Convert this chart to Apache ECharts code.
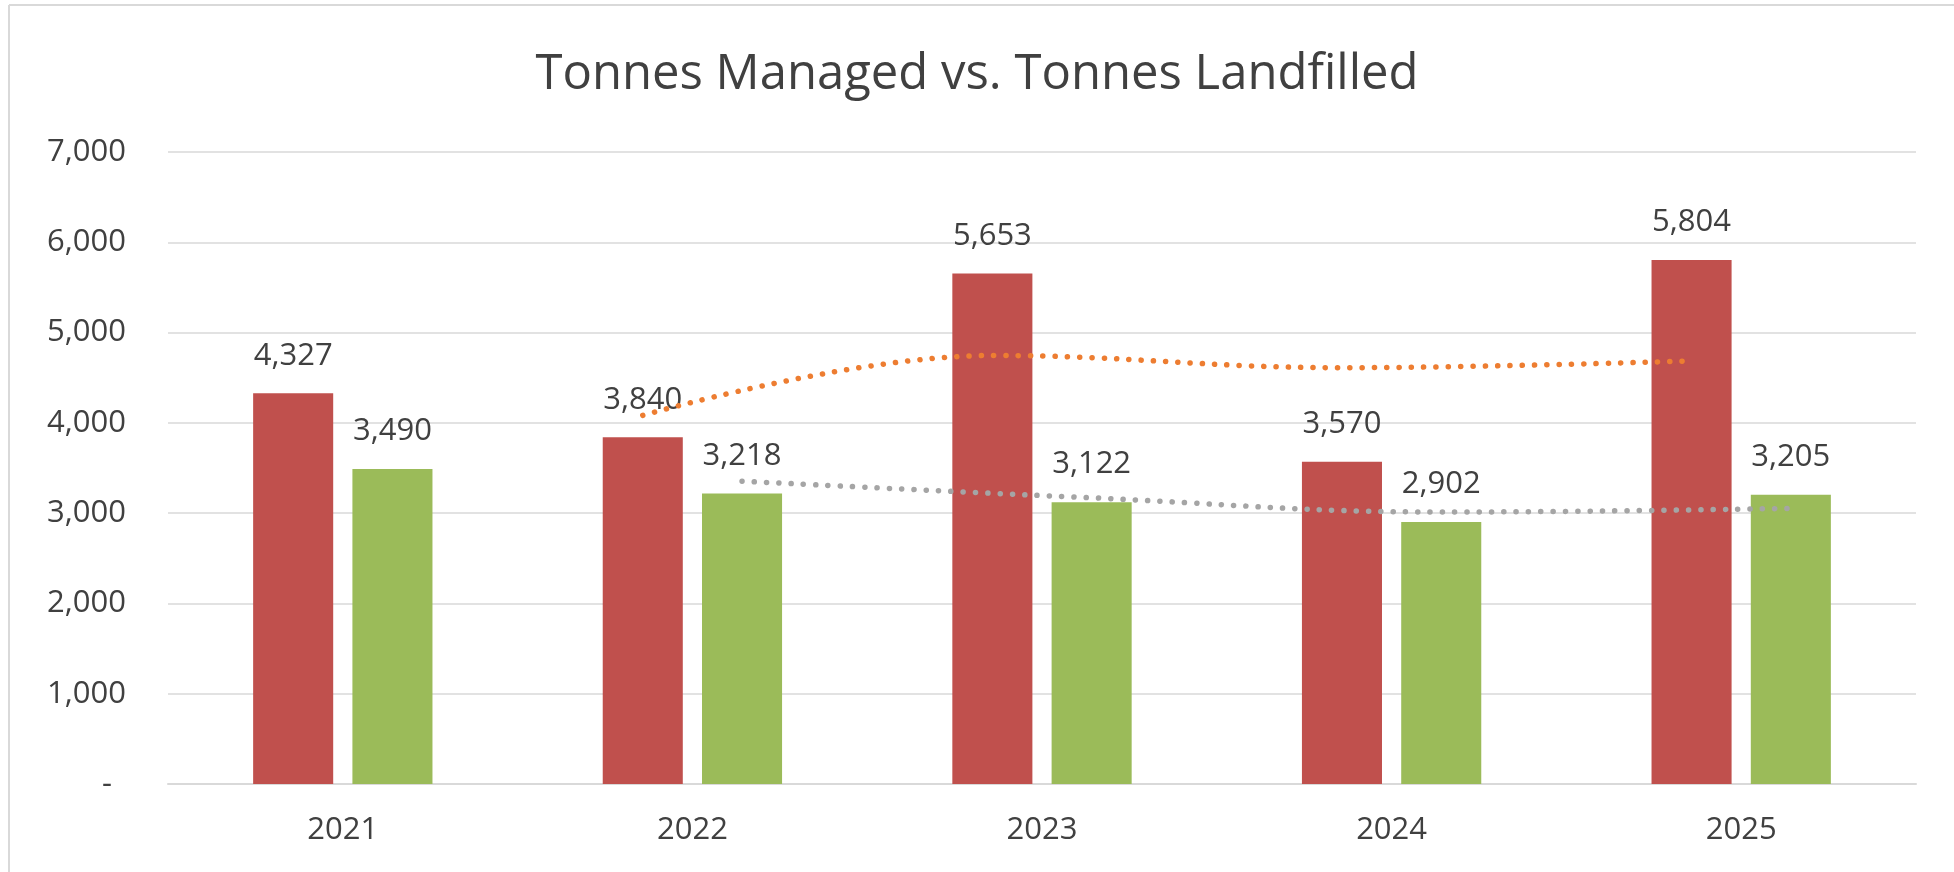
<!DOCTYPE html>
<html>
<head>
<meta charset="utf-8">
<script src="https://cdn.jsdelivr.net/npm/echarts@6/dist/echarts.min.js"></script>
<style>
  html, body { margin: 0; padding: 0; background: #fff; }
  #chart { width: 1954px; height: 872px; }
</style>
</head>
<body>
<div id="chart"></div>
<script>
// 数据
const years = ['2021', '2022', '2023', '2024', '2025'];
const tonnesManaged = [4327, 3840, 5653, 3570, 5804];
const tonnesLandfilled = [3490, 3218, 3122, 2902, 3205];
// 2 period moving average trendlines, start at 2022
const managedTrend = [4083, 4746, 4611, 4687];
const landfilledTrend = [3354, 3170, 3012, 3053];
const trendYears = [1, 2, 3, 4]; // index into years

const yTicks = [0, 1000, 2000, 3000, 4000, 5000, 6000, 7000];

const textColor = '#404040';
const font = 'Open Sans';

// bar layout, used also to put the trendlines on the bar centres
const barWidthPct = 22.9;
const barGapPct = 24;
const barOffset = (barWidthPct / 100) * (1 + barGapPct / 100) / 2;

const fmt = v => Number(v).toLocaleString('en-US');

const chart = echarts.init(document.getElementById('chart'), null, { renderer: 'canvas' });

const option = {
  backgroundColor: '#fff',
  animation: false,
  title: {
    text: 'Tonnes Managed vs. Tonnes Landfilled',
    left: 'center',
    top: 46,
    textStyle: { fontFamily: font, fontSize: 49, fontWeight: 'normal', color: textColor }
  },
  grid: {
    left: 168,
    right: 38,
    top: 152,
    bottom: 88,
    containLabel: false,
    outerBoundsMode: 'none'
  },
  xAxis: [
    {
      type: 'category',
      data: years,
      axisLine: { lineStyle: { color: '#d9d9d9', width: 2 } },
      axisTick: { show: false },
      axisLabel: { fontFamily: font, fontSize: 31, color: textColor, margin: 31 }
    },
    {
      type: 'value',
      min: 0,
      max: years.length,
      show: false
    }
  ],
  yAxis: {
    type: 'value',
    min: yTicks[0],
    max: yTicks[yTicks.length - 1],
    interval: 1000,
    axisLine: { show: false },
    axisTick: { show: false },
    splitLine: { lineStyle: { color: '#d9d9d9', width: 1.5 } },
    axisLabel: {
      fontFamily: font,
      fontSize: 31,
      color: textColor,
      margin: 42,
      formatter: v => (v === 0 ? '{z|-}' : fmt(v)),
      rich: {
        z: { fontFamily: font, fontSize: 31, color: textColor, padding: [0, 14, 0, 0] }
      }
    }
  },
  series: [
    {
      name: 'Tonnes Managed',
      type: 'bar',
      data: tonnesManaged,
      barWidth: barWidthPct + '%',
      barGap: barGapPct + '%',
      itemStyle: { color: '#C0504D' },
      label: {
        show: true,
        position: 'top',
        distance: 22,
        fontFamily: font,
        fontSize: 31,
        color: textColor,
        formatter: p => fmt(p.value)
      }
    },
    {
      name: 'Tonnes Landfilled',
      type: 'bar',
      data: tonnesLandfilled,
      barWidth: barWidthPct + '%',
      itemStyle: { color: '#9BBB59' },
      label: {
        show: true,
        position: 'top',
        distance: 22,
        fontFamily: font,
        fontSize: 31,
        color: textColor,
        formatter: p => fmt(p.value)
      }
    },
    {
      name: 'Managed trend',
      type: 'line',
      xAxisIndex: 1,
      data: trendYears.map((i, k) => [i + 0.5 - barOffset, managedTrend[k]]),
      smooth: 0.4,
      symbol: 'none',
      silent: true,
      z: 5,
      lineStyle: { color: '#ED7D31', width: 5.5, type: [0.1, 12.2], cap: 'round' }
    },
    {
      name: 'Landfilled trend',
      type: 'line',
      xAxisIndex: 1,
      data: trendYears.map((i, k) => [i + 0.5 + barOffset, landfilledTrend[k]]),
      smooth: 0.4,
      symbol: 'none',
      silent: true,
      z: 5,
      lineStyle: { color: '#A5A5A5', width: 5.5, type: [0.1, 12.2], cap: 'round' }
    }
  ],
  // chart area border (left and top visible in the picture)
  graphic: [
    { type: 'line', shape: { x1: 9, y1: 5, x2: 1954, y2: 5 }, style: { stroke: '#d9d9d9', lineWidth: 2 } },
    { type: 'line', shape: { x1: 9, y1: 5, x2: 9, y2: 872 }, style: { stroke: '#d9d9d9', lineWidth: 2 } }
  ]
};

chart.setOption(option);
</script>
</body>
</html>
